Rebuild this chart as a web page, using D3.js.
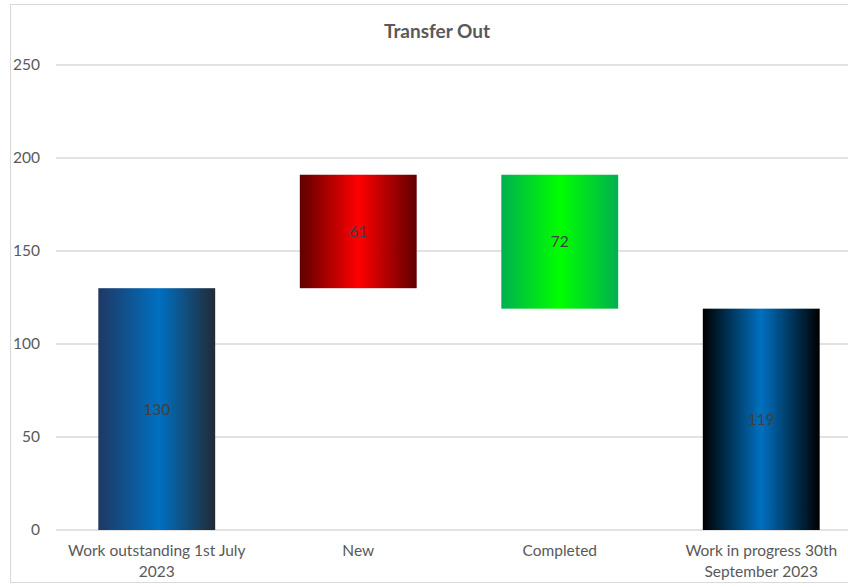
<!DOCTYPE html>
<html>
<head>
<meta charset="utf-8">
<script src="https://cdn.jsdelivr.net/npm/d3@7"></script>
<style>
  body { margin: 0; background: #fff; }
  text { font-family: Lato, "Open Sans", sans-serif; }
</style>
</head>
<body>
<div id="chart"></div>
<script>
// chart data
const categories = ['Work outstanding 1st July 2023', 'New', 'Completed', 'Work in progress 30th September 2023'];
const labelLines = [['Work outstanding 1st July', '2023'], ['New'], ['Completed'], ['Work in progress 30th', 'September 2023']];
const values = [130, 61, 72, 119];
const kinds = ['total', 'increase', 'decrease', 'total'];
const yTicks = [0, 50, 100, 150, 200, 250];

const width = 848, height = 587;
const margin = {top: 65, right: -14, bottom: 57, left: 56};
const plotW = width - margin.left - margin.right;
const plotH = height - margin.top - margin.bottom;

const svg = d3.select('#chart').append('svg')
    .attr('width', width)
    .attr('height', height);

// outer chart border
svg.append('rect')
    .attr('x', 10.5).attr('y', 4.5)
    .attr('width', 880).attr('height', 578)
    .attr('fill', 'none')
    .attr('stroke', '#d9d9d9');

// gradients for bars
const defs = svg.append('defs');
const grads = {
  total: [['0%', '#1f3864'], ['52%', '#0070c0'], ['100%', '#222a35']],
  end: [['0%', '#000000'], ['50%', '#0070c0'], ['100%', '#000000']],
  increase: [['0%', '#600000'], ['50%', '#ff0000'], ['100%', '#600000']],
  decrease: [['0%', '#00b050'], ['50%', '#00ff00'], ['100%', '#00b050']]
};
Object.entries(grads).forEach(([id, stops]) => {
  const g = defs.append('linearGradient').attr('id', 'g-' + id)
      .attr('x1', '0%').attr('x2', '100%').attr('y1', '0%').attr('y2', '0%');
  stops.forEach(s => g.append('stop').attr('offset', s[0]).attr('stop-color', s[1]));
});

// waterfall positions
let running = 0;
const bars = values.map((v, i) => {
  let lo, hi;
  if (kinds[i] === 'total') { lo = 0; hi = v; running = v; }
  else if (kinds[i] === 'increase') { lo = running; hi = running + v; running = hi; }
  else { hi = running; lo = running - v; running = lo; }
  const fill = kinds[i] === 'total' ? (i === 0 ? 'total' : 'end') : kinds[i];
  return {cat: categories[i], value: v, lo, hi, fill};
});

const g = svg.append('g')
    .attr('transform', `translate(${margin.left},${margin.top})`);

const x = d3.scaleBand()
    .domain(categories)
    .range([0, plotW])
    .paddingInner(0.42)
    .paddingOuter(0.21);

const y = d3.scaleLinear()
    .domain([0, 250])
    .range([plotH, 0]);

// gridlines
g.append('g')
    .selectAll('line')
    .data(yTicks)
    .join('line')
    .attr('x1', 0).attr('x2', plotW)
    .attr('y1', d => y(d)).attr('y2', d => y(d))
    .attr('stroke', '#d9d9d9')
    .attr('stroke-width', 1.3);

// y axis labels
const yAxis = g.append('g')
    .call(d3.axisLeft(y).tickValues(yTicks).tickSize(0).tickPadding(16));
yAxis.select('.domain').remove();
yAxis.selectAll('text')
    .attr('fill', '#595959')
    .style('font-size', '15.5px')
    .style('font-family', 'Lato, "Open Sans", sans-serif');

// bars
g.selectAll('rect.bar')
    .data(bars)
    .join('rect')
    .attr('class', 'bar')
    .attr('x', d => x(d.cat))
    .attr('width', x.bandwidth())
    .attr('y', d => y(d.hi))
    .attr('height', d => y(d.lo) - y(d.hi))
    .attr('fill', d => `url(#g-${d.fill})`);

// data labels
g.selectAll('text.val')
    .data(bars)
    .join('text')
    .attr('class', 'val')
    .attr('x', d => x(d.cat) + x.bandwidth() / 2)
    .attr('y', d => (y(d.lo) + y(d.hi)) / 2)
    .attr('dy', '0.35em')
    .attr('text-anchor', 'middle')
    .attr('fill', '#404040')
    .style('font-size', '15.5px')
    .text(d => d.value);

// category labels
const xl = g.selectAll('text.cat')
    .data(categories)
    .join('text')
    .attr('class', 'cat')
    .attr('text-anchor', 'middle')
    .attr('fill', '#595959')
    .style('font-size', '15.5px')
    .attr('transform', d => `translate(${x(d) + x.bandwidth() / 2},${plotH + 26})`);
xl.each(function(d, i) {
  d3.select(this).selectAll('tspan')
      .data(labelLines[i])
      .join('tspan')
      .attr('x', 0)
      .attr('y', (t, j) => j * 21)
      .text(t => t);
});

// title
svg.append('text')
    .attr('x', 437)
    .attr('y', 38)
    .attr('text-anchor', 'middle')
    .attr('fill', '#595959')
    .style('font-size', '19px')
    .style('font-weight', 'bold')
    .text('Transfer Out');
</script>
</body>
</html>
